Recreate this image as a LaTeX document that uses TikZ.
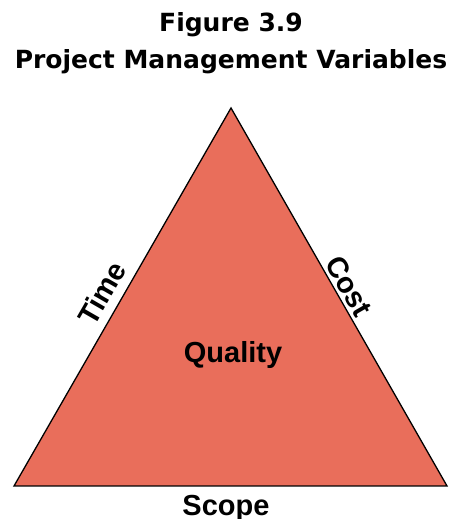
\documentclass[tikz,border=0pt]{standalone}
\usepackage{fontspec}
\setmainfont{Liberation Sans}
\newfontfamily\titlefont{DejaVu Sans}
\definecolor{tri}{RGB}{233,110,91}
\begin{document}
\begin{tikzpicture}[x=1pt,y=1pt,
  titletext/.style={font=\titlefont\bfseries\fontsize{25}{25}\selectfont, inner sep=0pt, anchor=base},
  sidelabel/.style={font=\bfseries\fontsize{29}{29}\selectfont, inner sep=0pt}]
  \useasboundingbox (0,0) rectangle (449,519);
  % the triangle of constraints
  \coordinate (apex) at (231,411);
  \coordinate (bl) at (14,33);
  \coordinate (br) at (447,33);
  \draw[fill=tri, line width=1.3pt, line join=miter] (apex) -- (br) -- (bl) -- cycle;
  % heading
  \node[titletext] (t1) at (231,487) {Figure 3.9};
  \node[titletext] (t2) at (231,450) {Project Management Variables};
  % labels on the sides
  \node[sidelabel, rotate=60.1] (time) at (102,226) {Time};
  \node[sidelabel, rotate=-60.1] (cost) at (349,233) {Cost};
  \node[sidelabel] (quality) at (233,164) {Quality};
  \node[sidelabel] (scope) at (226,11) {Scope};
\end{tikzpicture}
\end{document}
